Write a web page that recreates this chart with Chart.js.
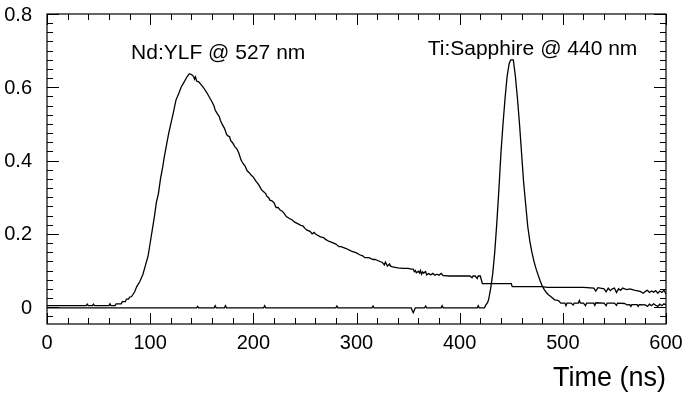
<!DOCTYPE html>
<html>
<head>
<meta charset="utf-8">
<script src="https://cdn.jsdelivr.net/npm/chart.js@4/dist/chart.umd.min.js"></script>
<style>
  html, body { margin: 0; padding: 0; background: #fff; }
  canvas { display: block; }
</style>
</head>
<body>
<canvas id="pulseChart" width="683" height="396"></canvas>
<script>
// Pulse shapes of the two pump lasers
const ndTime = [0, 20, 38, 39, 40, 44, 45, 46, 60, 61, 62, 66, 67, 72, 73, 76, 77, 79, 80, 82,
  85, 87, 90, 93, 95, 98, 100, 102, 104, 106, 108, 110, 112, 114, 116, 118, 120, 122, 125, 128,
  130, 132, 134, 136, 138, 140, 142, 143, 144, 145, 147, 150, 152, 155, 157, 160, 162, 163, 165, 167,
  168, 170, 172, 174, 175, 177, 178, 180, 182, 184, 186, 188, 190, 192, 194, 196, 198, 200, 203, 205,
  208, 210, 212, 213, 215, 216, 218, 220, 222, 224, 226, 228, 230, 232, 235, 238, 240, 243, 246, 248,
  250, 252, 255, 257, 259, 260, 263, 265, 268, 270, 273, 275, 280, 283, 285, 290, 295, 300, 303, 306,
  308, 312, 316, 318, 320, 325, 327, 328, 330, 332, 333, 335, 340, 345, 350, 353, 355, 356, 357, 358,
  360, 361, 362, 363, 364, 365, 367, 368, 370, 372, 374, 376, 378, 380, 382, 384, 385, 390, 400, 410,
  412, 413, 415, 417, 418, 420, 422, 430, 440, 450, 451, 460, 470, 475, 480, 485, 486, 488, 490, 491,
  500, 510, 520, 530, 532, 534, 540, 542, 544, 546, 548, 550, 552, 554, 556, 558, 560, 562, 565, 570,
  575, 578, 580, 582, 584, 586, 588, 590, 592, 594, 596, 598, 600];
const ndSignal = [0.004, 0.004, 0.004, 0.008, 0.004, 0.004, 0.008, 0.004, 0.004, 0.009, 0.004, 0.004, 0.009, 0.009, 0.015, 0.015, 0.022, 0.022, 0.027, 0.029,
  0.042, 0.056, 0.07, 0.09, 0.11, 0.14, 0.175, 0.21, 0.245, 0.285, 0.31, 0.35, 0.38, 0.415, 0.445, 0.475, 0.5, 0.525, 0.565, 0.585,
  0.6, 0.61, 0.62, 0.63, 0.637, 0.635, 0.63, 0.622, 0.628, 0.617, 0.615, 0.605, 0.598, 0.585, 0.575, 0.56, 0.548, 0.538, 0.528, 0.52,
  0.51, 0.498, 0.488, 0.472, 0.468, 0.465, 0.455, 0.448, 0.438, 0.432, 0.42, 0.402, 0.392, 0.385, 0.372, 0.367, 0.36, 0.355, 0.342, 0.335,
  0.32, 0.315, 0.31, 0.303, 0.298, 0.292, 0.29, 0.285, 0.272, 0.272, 0.265, 0.262, 0.255, 0.247, 0.242, 0.237, 0.232, 0.228, 0.223, 0.222,
  0.215, 0.21, 0.207, 0.2, 0.204, 0.2, 0.195, 0.192, 0.19, 0.185, 0.18, 0.178, 0.172, 0.165, 0.165, 0.16, 0.153, 0.148, 0.143, 0.14,
  0.135, 0.135, 0.13, 0.13, 0.128, 0.122, 0.115, 0.123, 0.112, 0.118, 0.112, 0.11, 0.107, 0.106, 0.106, 0.104, 0.104, 0.097, 0.1, 0.094,
  0.098, 0.093, 0.1, 0.09, 0.096, 0.093, 0.097, 0.088, 0.092, 0.088, 0.092, 0.087, 0.09, 0.087, 0.092, 0.086, 0.086, 0.085, 0.085, 0.085,
  0.08, 0.085, 0.085, 0.078, 0.085, 0.085, 0.064, 0.064, 0.064, 0.064, 0.056, 0.056, 0.056, 0.056, 0.056, 0.054, 0.054, 0.054, 0.054, 0.054,
  0.054, 0.054, 0.054, 0.052, 0.044, 0.053, 0.05, 0.042, 0.052, 0.045, 0.05, 0.052, 0.04, 0.05, 0.046, 0.052, 0.05, 0.048, 0.05, 0.046,
  0.043, 0.038, 0.043, 0.046, 0.04, 0.044, 0.041, 0.045, 0.038, 0.044, 0.04, 0.046, 0.036];

const tiTime = [0, 40, 100, 145, 146, 147, 162, 163, 164, 172,
  173, 174, 210, 211, 212, 280, 281, 282, 315, 316,
  317, 353, 355, 357, 366, 367, 368, 382, 383, 384,
  417, 418, 419, 424, 425, 427, 428, 430, 432, 434,
  436, 438, 440, 442, 444, 446, 448, 449.5, 452, 454,
  456, 458, 460, 462, 464, 466, 468, 470, 472, 474,
  476, 478, 480, 482, 484, 486, 488, 490, 492, 494,
  496, 498, 502, 503, 504, 508, 510, 511, 515, 516,
  517, 520, 522, 523, 530, 531, 532, 540, 542, 543,
  550, 552, 553, 560, 562, 565, 566, 567, 572, 573,
  574, 580, 582, 584, 586, 588, 590, 592, 594, 596,
  598, 600];
const tiSignal = [-0.002, -0.002, -0.002, -0.002, 0.002, -0.002, -0.002, 0.004, -0.002, -0.002,
  0.004, -0.002, -0.002, 0.004, -0.002, -0.002, 0.003, -0.002, -0.002, 0.003,
  -0.002, -0.002, -0.015, -0.002, -0.002, 0.003, -0.002, -0.002, 0.004, -0.002,
  -0.002, 0.004, -0.002, -0.002, 0.004, 0.012, 0.02, 0.05, 0.09, 0.15,
  0.23, 0.32, 0.42, 0.5, 0.57, 0.63, 0.665, 0.675, 0.675, 0.63,
  0.57, 0.5, 0.42, 0.34, 0.28, 0.22, 0.18, 0.15, 0.125, 0.105,
  0.088, 0.072, 0.058, 0.048, 0.04, 0.034, 0.03, 0.025, 0.02, 0.019,
  0.017, 0.011, 0.011, 0.004, 0.011, 0.011, 0.006, 0.011, 0.011, 0.018,
  0.011, 0.011, 0.004, 0.011, 0.011, 0.005, 0.012, 0.011, 0.004, 0.011,
  0.011, 0.005, 0.011, 0.01, 0.006, 0.007, 0.002, 0.007, 0.007, 0.002,
  0.007, 0.006, 0.002, 0.008, 0.004, 0.009, 0.005, 0.002, 0.008, 0.004,
  0.009, 0.006];

const xTicks = [0, 100, 200, 300, 400, 500, 600];
const yTicks = [0, 0.2, 0.4, 0.6, 0.8];
const yTickLabels = ['0', '0.2', '0.4', '0.6', '0.8'];

const curveLabels = ['Nd:YLF @ 527 nm', 'Ti:Sapphire @ 440 nm'];
const labelTime = [81.5, 369];
const labelSignal = [0.677, 0.688];

const FONT = "'Liberation Sans', Arial, Helvetica, sans-serif";

function toPoints(xs, ys) {
    return xs.map((x, i) => ({ x: x, y: ys[i] }));
}

// ROOT style frame with inward ticks on all four sides + text labels
const frameTicks = {
    id: 'frameTicks',
    afterDraw(chart) {
        const { ctx, chartArea: a, scales: { x, y } } = chart;
        ctx.save();
        ctx.strokeStyle = '#000';
        ctx.lineWidth = 1.2;
        ctx.strokeRect(a.left, a.top, a.right - a.left, a.bottom - a.top);

        ctx.lineWidth = 1;
        ctx.beginPath();
        // x ticks, minor every 20
        for (let v = x.min; v <= x.max + 1e-9; v += 20) {
            const px = Math.round(x.getPixelForValue(v)) + 0.5;
            const len = Math.abs(v % 100) < 1e-6 ? 11 : 6;
            ctx.moveTo(px, a.bottom); ctx.lineTo(px, a.bottom - len);
            ctx.moveTo(px, a.top); ctx.lineTo(px, a.top + len);
        }
        // y ticks, minor every 0.025
        for (let k = -1; k <= 32; k++) {
            const v = k * 0.025;
            if (v < y.min || v > y.max + 1e-9) continue;
            const py = Math.round(y.getPixelForValue(v)) + 0.5;
            const len = k % 8 === 0 ? 12 : 6;
            ctx.moveTo(a.left, py); ctx.lineTo(a.left + len, py);
            ctx.moveTo(a.right, py); ctx.lineTo(a.right - len, py);
        }
        ctx.stroke();

        ctx.fillStyle = '#000';
        ctx.font = '21px ' + FONT;
        ctx.textAlign = 'left';
        ctx.textBaseline = 'alphabetic';
        curveLabels.forEach((t, i) => {
            ctx.fillText(t, x.getPixelForValue(labelTime[i]), y.getPixelForValue(labelSignal[i]));
        });
        ctx.restore();
    }
};

const lineStyle = {
    borderColor: '#000',
    borderWidth: 1.3,
    pointRadius: 0,
    tension: 0,
    fill: false
};

new Chart(document.getElementById('pulseChart'), {
    type: 'line',
    data: {
        datasets: [
            Object.assign({ label: curveLabels[0], data: toPoints(ndTime, ndSignal) }, lineStyle),
            Object.assign({ label: curveLabels[1], data: toPoints(tiTime, tiSignal) }, lineStyle)
        ]
    },
    options: {
        responsive: false,
        animation: false,
        devicePixelRatio: 1,
        layout: { padding: { top: 14, right: 17, left: 0, bottom: 0 } },
        plugins: {
            legend: { display: false },
            tooltip: { enabled: false }
        },
        scales: {
            x: {
                type: 'linear',
                min: 0,
                max: 600,
                afterBuildTicks: (s) => { s.ticks = xTicks.map(v => ({ value: v })); },
                afterFit: (s) => { s.height = 72; s.paddingLeft = 0; s.paddingRight = 0; },
                grid: { display: false },
                border: { display: false },
                ticks: {
                    color: '#000',
                    font: { family: FONT, size: 20 },
                    padding: -1,
                    maxRotation: 0,
                    autoSkip: false,
                    callback: (v) => String(v)
                },
                title: {
                    display: true,
                    text: 'Time (ns)',
                    align: 'end',
                    color: '#000',
                    font: { family: FONT, size: 27 },
                    padding: { top: 0, bottom: 1 }
                }
            },
            y: {
                min: -0.046,
                max: 0.8,
                afterBuildTicks: (s) => { s.ticks = yTicks.map(v => ({ value: v })); },
                afterFit: (s) => { s.width = 47; s.paddingTop = 0; s.paddingBottom = 0; },
                grid: { display: false },
                border: { display: false },
                ticks: {
                    color: '#000',
                    font: { family: FONT, size: 20 },
                    padding: 7,
                    labelOffset: 1,
                    autoSkip: false,
                    callback: (v, i) => yTickLabels[i]
                }
            }
        }
    },
    plugins: [frameTicks]
});
</script>
</body>
</html>
